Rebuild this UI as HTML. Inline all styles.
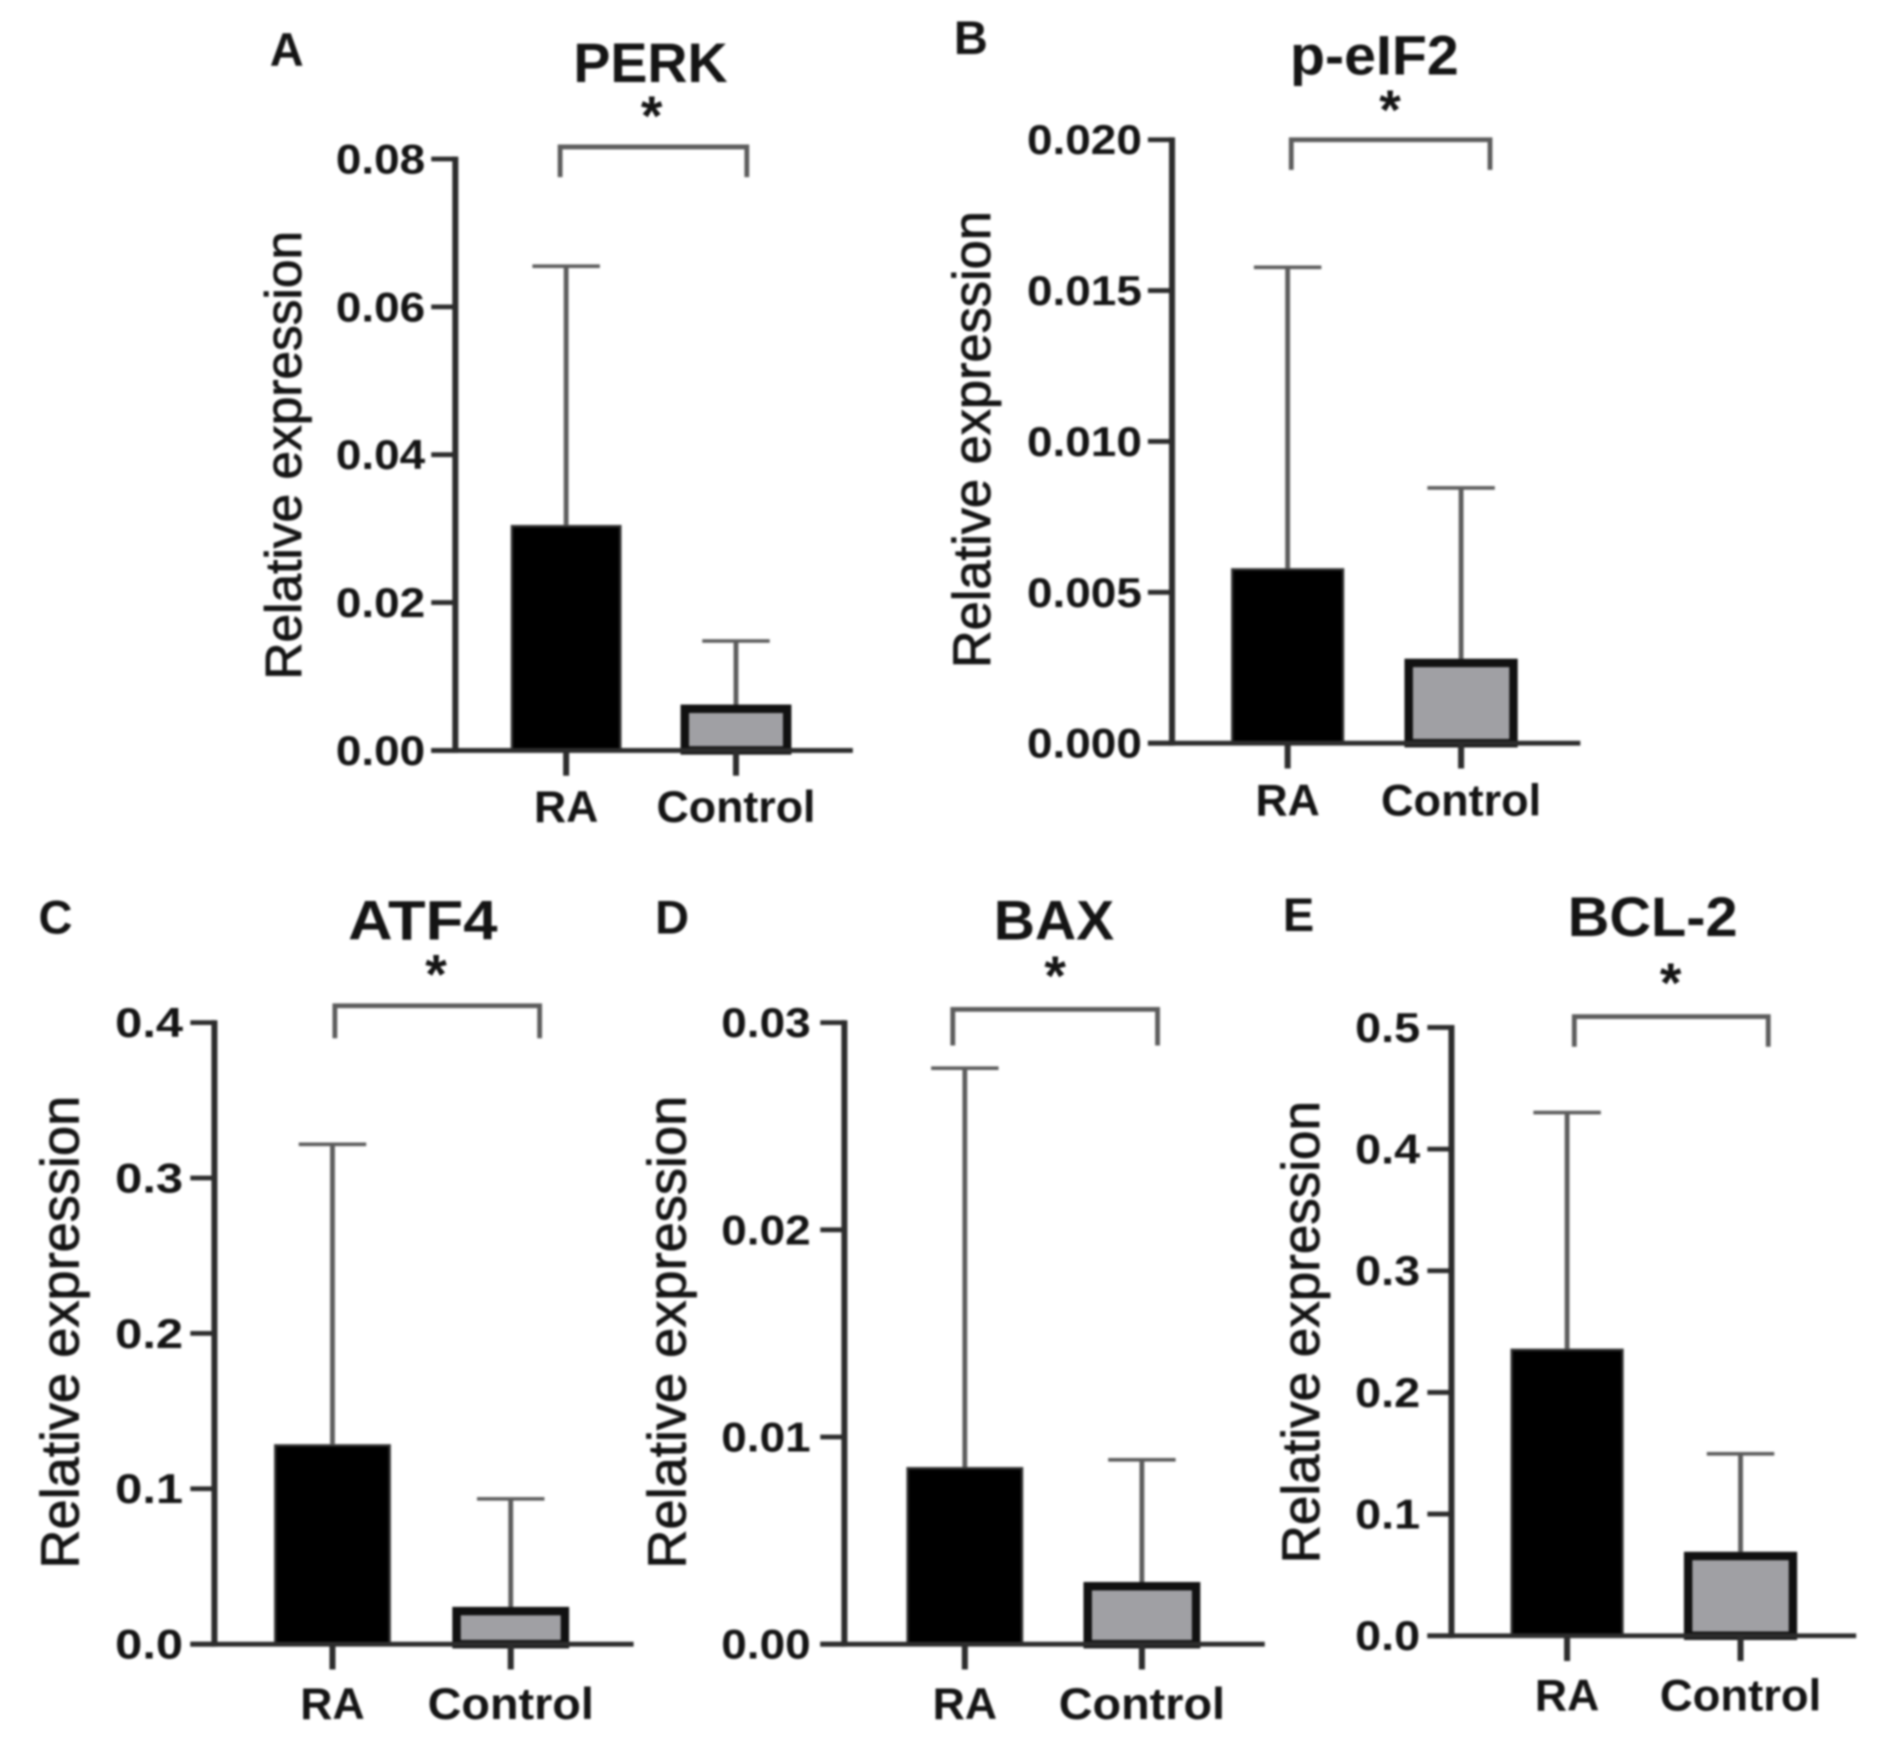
<!DOCTYPE html>
<html lang="en">
<head>
<meta charset="utf-8">
<title>Relative expression bar charts</title>
<style>
  html, body { margin: 0; padding: 0; background: #fff; }
  svg { display: block; filter: blur(1px); }
  text { font-family: "Liberation Sans", sans-serif; fill: #141414; }
  .bold { font-weight: 700; }
</style>
</head>
<body>
<svg id="figure" xmlns="http://www.w3.org/2000/svg" width="1888" height="1751" viewBox="0 0 1567.4 1453.7"></svg>
<script>
const categories = ['RA', 'Control'];

const perkMeans = [0.0305, 0.0062];
const perkUpper = [0.0655, 0.0148];
const perkTicks = ['0.00', '0.02', '0.04', '0.06', '0.08'];

const eif2Means = [0.0058, 0.0028];
const eif2Upper = [0.01577, 0.00846];
const eif2Ticks = ['0.000', '0.005', '0.010', '0.015', '0.020'];

const atf4Means = [0.1287, 0.0240];
const atf4Upper = [0.3217, 0.0935];
const atf4Ticks = ['0.0', '0.1', '0.2', '0.3', '0.4'];

const baxMeans = [0.00855, 0.0030];
const baxUpper = [0.0278, 0.0089];
const baxTicks = ['0.00', '0.01', '0.02', '0.03'];

const bcl2Means = [0.2360, 0.0690];
const bcl2Upper = [0.4300, 0.1495];
const bcl2Ticks = ['0.0', '0.1', '0.2', '0.3', '0.4', '0.5'];

const panels = [
  { key: 'perk', letter: 'A', title: 'PERK', means: perkMeans, upper: perkUpper, ticks: perkTicks,
    layout: { ax: 378, y0: 623, yTop: 132, xEnd: 708, c: [470, 611], bw: 92, br: [465, 620], brY: 122, brDrop: 147,
              tx: 540, ty: 68, tw: 128, sx: 541, sy: 92, lx: 238, ly: 55, ytx: 250, yty: 378, yts: 42.7, lo: 25, cw: 132, cy: 59.5, st: 1.09 } },
  { key: 'p-eif2', letter: 'B', title: 'p-eIF2', means: eif2Means, upper: eif2Upper, ticks: eif2Ticks,
    layout: { ax: 973, y0: 617, yTop: 116, xEnd: 1312, c: [1069, 1213], bw: 94, br: [1072, 1237], brY: 116, brDrop: 141,
              tx: 1141, ty: 62, tw: 140, sx: 1154, sy: 87, lx: 806, ly: 45, ytx: 822, yty: 365, yts: 43.5, lo: 25, cw: 133, cy: 60, st: 1.09 } },
  { key: 'atf4', letter: 'C', title: 'ATF4', means: atf4Means, upper: atf4Upper, ticks: atf4Ticks,
    layout: { ax: 178, y0: 1365, yTop: 849, xEnd: 526, c: [276, 424], bw: 97, br: [278, 448], brY: 835, brDrop: 862,
              tx: 351, ty: 780, tw: 124, sx: 362, sy: 805, lx: 46, ly: 775, ytx: 65, yty: 1106, yts: 45, lo: 26, cw: 138, cy: 62, st: 1.16 } },
  { key: 'bax', letter: 'D', title: 'BAX', means: baxMeans, upper: baxUpper, ticks: baxTicks,
    layout: { ax: 701, y0: 1365, yTop: 849, xEnd: 1050, c: [801, 948], bw: 97, br: [791, 961], brY: 838, brDrop: 868,
              tx: 875, ty: 780, tw: 100, sx: 876, sy: 806, lx: 558, ly: 775, ytx: 569, yty: 1106, yts: 45, lo: 28, cw: 138, cy: 62, st: 1.09 } },
  { key: 'bcl-2', letter: 'E', title: 'BCL-2', means: bcl2Means, upper: bcl2Upper, ticks: bcl2Ticks,
    layout: { ax: 1205, y0: 1358, yTop: 853, xEnd: 1541, c: [1301, 1445], bw: 94, br: [1307, 1468], brY: 844, brDrop: 869,
              tx: 1372, ty: 777, tw: 141, sx: 1387, sy: 812, lx: 1078, ly: 773, ytx: 1095, yty: 1106, yts: 44, lo: 26, cw: 134, cy: 62, st: 1.11 } }
];

const svgNS = 'http://www.w3.org/2000/svg';
const root = document.getElementById('figure');

function node(tag, attrs, parent, content) {
  const el = document.createElementNS(svgNS, tag);
  for (const k in attrs) el.setAttribute(k, attrs[k]);
  if (content !== undefined) el.textContent = content;
  parent.appendChild(el);
  return el;
}

function drawPanel(p) {
  const L = p.layout;
  const domainMax = parseFloat(p.ticks[p.ticks.length - 1]);
  const y = v => L.y0 - (v / domainMax) * (L.y0 - L.yTop);
  const axisColor = '#2c2c2c';
  const whiskerColor = '#5c5c5c';

  const g = node('g', {}, root);
  
  

  const letter = node('text', { x: L.lx, y: L.ly, 'text-anchor': 'middle', 'font-size': 39, class: 'bold' }, g, p.letter);
  
  

  const title = node('text', { x: L.tx, y: L.ty, 'text-anchor': 'middle', 'font-size': 46, class: 'bold', textLength: L.tw, lengthAdjust: 'spacingAndGlyphs' }, g, p.title);
  
  

  const yTitle = node('text', {
    x: L.ytx, y: L.yty, 'text-anchor': 'middle', 'font-size': L.yts,
    stroke: '#141414', 'stroke-width': 0.7,
    transform: 'rotate(-90 ' + L.ytx + ' ' + L.yty + ')'
  }, g, 'Relative expression');
  
  

  // bars and error bars
  categories.forEach((cat, i) => {
    const cx = L.c[i];
    const top = y(p.means[i]);
    const errTop = y(p.upper[i]);

    const stem = node('line', { x1: cx, x2: cx, y1: errTop, y2: top, stroke: whiskerColor, 'stroke-width': 4 }, g);
    
    

    const cap = node('line', { x1: cx - 28, x2: cx + 28, y1: errTop, y2: errTop, stroke: whiskerColor, 'stroke-width': 3 }, g);
    
    

    const inset = i === 0 ? 1 : 3.5;
    const bar = node('rect', {
      x: cx - L.bw / 2 + inset, y: top + inset,
      width: L.bw - 2 * inset, height: Math.max(0, L.y0 - top - inset),
      fill: i === 0 ? '#000000' : '#a0a0a4',
      stroke: i === 0 ? '#333333' : '#111111',
      'stroke-width': i === 0 ? 2 : 7
    }, g);
    
    

    const xTick = node('line', { x1: cx, x2: cx, y1: L.y0, y2: L.y0 + 21, stroke: axisColor, 'stroke-width': 5 }, g);
    
    

    const labelAttrs = { x: cx, y: L.y0 + L.cy, 'text-anchor': 'middle', 'font-size': 37, class: 'bold' };
    if (i === 1) {
      labelAttrs.textLength = L.cw;
      labelAttrs.lengthAdjust = 'spacingAndGlyphs';
    }
    const xLabel = node('text', labelAttrs, g, cat);
    
    
  });

  // axes
  const yAxis = node('line', { x1: L.ax, x2: L.ax, y1: L.yTop - 2, y2: L.y0 + 2, stroke: axisColor, 'stroke-width': 5 }, g);
  
  

  const xAxis = node('line', { x1: L.ax - 20, x2: L.xEnd, y1: L.y0, y2: L.y0, stroke: axisColor, 'stroke-width': 4 }, g);
  
  

  p.ticks.forEach(t => {
    const ty = y(parseFloat(t));
    const tick = node('line', { x1: L.ax - 20, x2: L.ax, y1: ty, y2: ty, stroke: axisColor, 'stroke-width': 4 }, g);
    
    

    const label = node('text', { x: L.ax - L.lo, y: ty + 12, 'text-anchor': 'end', 'font-size': 35, class: 'bold' }, g, t);
    
    
    label.setAttribute('textLength', (label.getComputedTextLength() * L.st).toFixed(1));
    label.setAttribute('lengthAdjust', 'spacingAndGlyphs');
  });

  // significance bracket
  const bracket = node('polyline', {
    points: L.br[0] + ',' + L.brDrop + ' ' + L.br[0] + ',' + L.brY + ' ' + L.br[1] + ',' + L.brY + ' ' + L.br[1] + ',' + L.brDrop,
    fill: 'none', stroke: '#5c5c5c', 'stroke-width': 4
  }, g);
  
  

  const star = node('text', { x: L.sx, y: L.sy + 20, 'text-anchor': 'middle', 'font-size': 46, class: 'bold' }, g, '*');
  
  
}

panels.forEach(drawPanel);
</script>
</body>
</html>
